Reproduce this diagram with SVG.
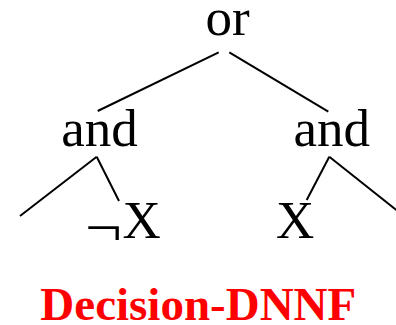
<svg xmlns="http://www.w3.org/2000/svg" width="396" height="325" viewBox="0 0 396 325">
  <style>
    .lbl { font-family: "Liberation Serif", "Times New Roman", serif; font-size: 53px; fill: #000; }
    .edge { stroke: #000; stroke-width: 2; fill: none; }
    .title { font-family: "Liberation Serif", "Times New Roman", serif; font-size: 47px; font-weight: bold; fill: #ff0000; }
  </style>
  <rect width="396" height="325" fill="#fff"/>
  <g id="connectors">
    <line class="edge" x1="218.7" y1="52.3" x2="97.7" y2="111"/>
    <line class="edge" x1="229.3" y1="52.3" x2="328.3" y2="111.7"/>
    <line class="edge" x1="96.7" y1="156.7" x2="20" y2="216"/>
    <line class="edge" x1="96.7" y1="156.7" x2="119" y2="201"/>
    <line class="edge" x1="329.3" y1="156.7" x2="306.7" y2="200"/>
    <line class="edge" x1="329.3" y1="156.7" x2="400" y2="213"/>
  </g>
  <g id="or-node">
    <text class="lbl" x="227.5" y="34.5" text-anchor="middle">or</text>
  </g>
  <g id="and-left">
    <text class="lbl" x="99.5" y="146" text-anchor="middle">and</text>
  </g>
  <g id="and-right">
    <text class="lbl" x="331.8" y="146" text-anchor="middle">and</text>
  </g>
  <g id="not-x">
    <!-- negation sign sits low and wide beside the X -->
    <text class="lbl" transform="translate(85,244.8) scale(1.24,1)">¬</text>
    <text class="lbl" x="122.5" y="238.3">X</text>
  </g>
  <g id="x">
    <text class="lbl" x="276" y="238.3">X</text>
  </g>
  <text class="title" x="198.3" y="319.5" text-anchor="middle">Decision-DNNF</text>
</svg>
